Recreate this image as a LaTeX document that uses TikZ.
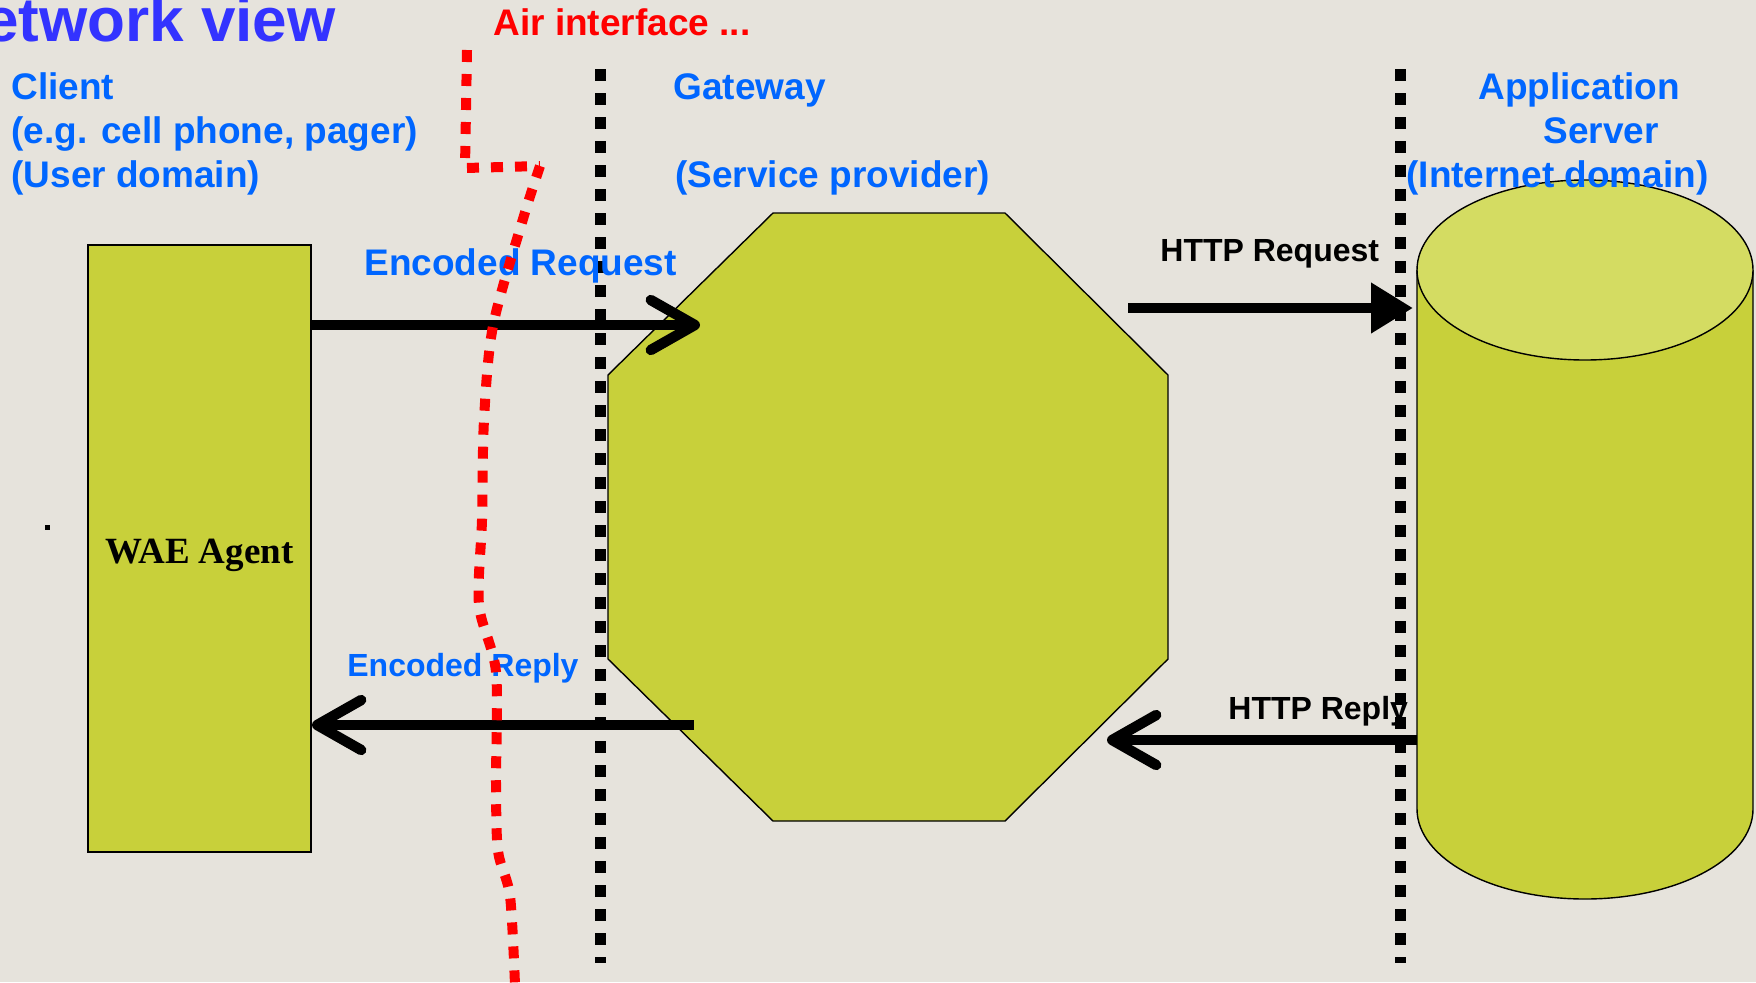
\documentclass[tikz,border=0pt]{standalone}
\usepackage{fontspec}
\setmainfont{Liberation Sans}
\newfontfamily\agentfont{Liberation Serif}
\usepackage{tikz}
\usetikzlibrary{arrows.meta,calc}
\definecolor{bgcol}{RGB}{230,227,220}
\definecolor{boxfill}{RGB}{200,208,58}
\definecolor{topfill}{RGB}{212,220,98}
\definecolor{lblblue}{RGB}{0,102,255}
\definecolor{titleblue}{RGB}{51,51,255}
\tikzstyle{lbl} = [font=\fontsize{18.5}{22}\selectfont\bfseries, text=lblblue, anchor=base west, inner sep=0]
\tikzstyle{msglbl} = [font=\fontsize{16}{19}\selectfont\bfseries, anchor=base west, inner sep=0]
\tikzstyle{barrow} = [line width=5.2pt, -{Straight Barb[length=22pt,width=25pt,round]}]
\tikzstyle{tarrow} = [line width=5.2pt, -{Triangle[length=21pt,width=24pt]}]
\tikzstyle{border} = [line width=5.5pt, dash pattern=on 6pt off 6pt]
\tikzstyle{air} = [red, line width=5pt, dash pattern=on 6pt off 6pt]
\tikzstyle{waebox} = [rectangle, draw, line width=1pt, fill=boxfill, minimum width=111.5pt, minimum height=303.5pt, text height=15.2pt, text depth=0pt, font=\agentfont\bfseries\fontsize{18.5}{22}\selectfont]

\begin{document}
\begin{tikzpicture}[x=0.5pt, y=-0.5pt]
    \useasboundingbox (0,0) rectangle (1756,982);
    \fill[bgcol] (0,0) rectangle (1756,982);

    % Titles
    \node[font=\fontsize{31}{36}\selectfont\bfseries, text=titleblue, anchor=base east, inner sep=0] (title) at (336,41) {Network view};
    \node[lbl, text=red] (air) at (493,35) {Air interface ...};

    % Domain labels
    \node[lbl] (cl1) at (11,99) {Client};
    \node[lbl] (cl2) at (11,143) {(e.g. cell phone, pager)};
    \node[lbl] (cl3) at (11,187) {(User domain)};
    \node[lbl] (gw1) at (673,99) {Gateway};
    \node[lbl] (gw2) at (675,187) {(Service provider)};
    \node[lbl] (as1) at (1478,99) {Application};
    \node[lbl] (as2) at (1543,143) {Server};

    % Client
    \node[waebox] (wae) at (199.5,548.5) {WAE Agent};
    \fill (45,525) rectangle (50,530);

    % Gateway
    \draw[fill=boxfill, line width=0.7pt] (773,213) -- (1005,213) -- (1168,375) -- (1168,659)
        -- (1005,821) -- (773,821) -- (608,659) -- (608,375) -- cycle;
    \coordinate (gw) at (888,517);

    % Server
    \fill[boxfill] (1417,270) -- (1417,809) arc[start angle=180, end angle=360, x radius=84pt, y radius=45pt] -- (1753,270) -- cycle;
    \draw[line width=0.7pt] (1417,270) -- (1417,809) arc[start angle=180, end angle=360, x radius=84pt, y radius=45pt] -- (1753,270);
    \draw[fill=topfill, line width=0.7pt] (1585,270) ellipse[x radius=84pt, y radius=45pt];
    \node[lbl] (as3) at (1406,187) {(Internet domain)};

    % Borders
    \draw[border] (600,69) -- (600,963);
    \draw[border] (1400,69) -- (1400,963);

    % Messages
    \coordinate (gwin) at (700,325);
    \coordinate (gwout) at (694,725);
    \coordinate (gwsrv) at (1128,308);
    \coordinate (srvin) at (1413,308);
    \coordinate (srvout) at (1417,740);
    \coordinate (gwback) at (1107,740);
    \draw[barrow] (wae.east |- gwin) -- (gwin);
    \draw[barrow] (gwout) -- (wae.east |- gwout);
    \draw[tarrow] (gwsrv) -- (srvin);
    \draw[barrow] (srvout) -- (gwback);
    \node[lbl] (req) at (364,275) {Encoded Request};
    \node[msglbl, text=lblblue] (rep) at (347,676) {Encoded Reply};
    \node[msglbl] (hreq) at (1160,261) {HTTP Request};
    \node[msglbl] (hrep) at (1228,719) {HTTP Reply};

    % Air interface
    \draw[air] (467,50) -- (465,168) -- (540,166);
    \draw[air] plot[smooth] coordinates {(540,166) (523,219) (493,326) (484,420) (482,520) (479,605) (496,672) (496,784) (498,851) (510,896) (515,985)};
\end{tikzpicture}
\end{document}
